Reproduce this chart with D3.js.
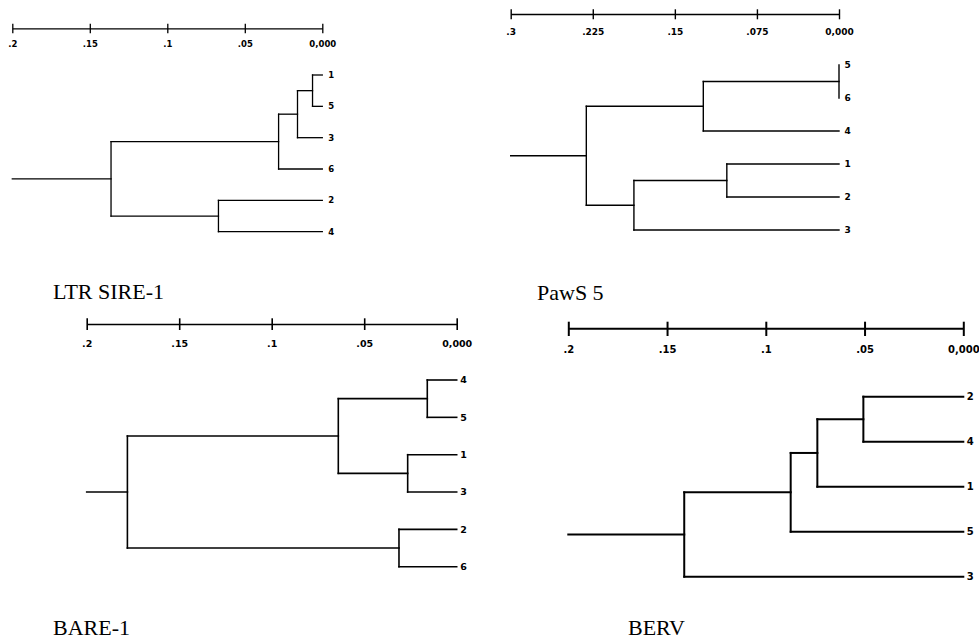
<!DOCTYPE html>
<html>
<head>
<meta charset="utf-8">
<script src="https://cdn.jsdelivr.net/npm/d3@7"></script>
<style>
  html, body { margin: 0; padding: 0; background: #fff; }
  svg { display: block; }
  .title { font-family: "Liberation Serif", "Times New Roman", serif; font-size: 22px; fill: #000; }
  .lbl { font-family: "DejaVu Sans", Verdana, sans-serif; font-weight: bold; fill: #000; }
</style>
</head>
<body>
<div id="chart"></div>
<script>
// ---- data (distances) ----
// merges: [childA, childB, height]; "#k" refers to the k-th merge
const titles = ["LTR SIRE-1", "PawS 5", "BARE-1", "BERV"];

const ticks1 = [0.2, 0.15, 0.1, 0.05, 0];
const tickLabels1 = [".2", ".15", ".1", ".05", "0,000"];
const leaves1 = ["1", "5", "3", "6", "2", "4"];
const merges1 = [["1", "5", 0.0063], ["#0", "3", 0.016], ["#1", "6", 0.0282], ["2", "4", 0.067], ["#2", "#3", 0.1363]];

const ticks2 = [0.3, 0.225, 0.15, 0.075, 0];
const tickLabels2 = [".3", ".225", ".15", ".075", "0,000"];
const leaves2 = ["5", "6", "4", "1", "2", "3"];
const merges2 = [["5", "6", 0], ["#0", "4", 0.124], ["1", "2", 0.1025], ["#2", "3", 0.1874], ["#1", "#3", 0.2309]];

const ticks3 = [0.2, 0.15, 0.1, 0.05, 0];
const tickLabels3 = [".2", ".15", ".1", ".05", "0,000"];
const leaves3 = ["4", "5", "1", "3", "2", "6"];
const merges3 = [["4", "5", 0.0159], ["1", "3", 0.0265], ["#0", "#1", 0.064], ["2", "6", 0.0312], ["#2", "#3", 0.178]];

const ticks4 = [0.2, 0.15, 0.1, 0.05, 0];
const tickLabels4 = [".2", ".15", ".1", ".05", "0,000"];
const leaves4 = ["2", "4", "1", "5", "3"];
const merges4 = [["2", "4", 0.0506], ["#0", "1", 0.0739], ["#1", "5", 0.0874], ["#2", "3", 0.1413]];

// ---- layout of the four pasted panels ----
const panels = [
  { ticks: ticks1, tickLabels: tickLabels1, leaves: leaves1, merges: merges1, title: titles[0],
    x0: 12.3, x1: 322.3, axisY: 28.3, yTop: 75, yBottom: 231.7, tickUp: 4.5, tickDown: 5,
    tickBase: 18.4, font: 8.5, leafGap: 6, sw: 1.3, titleX: 53, titleY: 299 },
  { ticks: ticks2, tickLabels: tickLabels2, leaves: leaves2, merges: merges2, title: titles[1],
    x0: 510.7, x1: 839, axisY: 14, yTop: 65, yBottom: 230, tickUp: 4.7, tickDown: 5.3,
    tickBase: 21, font: 9, leafGap: 5.5, sw: 1.4, titleX: 537, titleY: 300 },
  { ticks: ticks3, tickLabels: tickLabels3, leaves: leaves3, merges: merges3, title: titles[2],
    x0: 86.7, x1: 456.7, axisY: 324, yTop: 380, yBottom: 566.7, tickUp: 5.7, tickDown: 6,
    tickBase: 22.7, font: 9.5, leafGap: 3.5, sw: 1.6, titleX: 53, titleY: 635 },
  { ticks: ticks4, tickLabels: tickLabels4, leaves: leaves4, merges: merges4, title: titles[3],
    x0: 568.3, x1: 963.3, axisY: 328.3, yTop: 396.7, yBottom: 576.7, tickUp: 6.6, tickDown: 7.7,
    tickBase: 25, font: 10, leafGap: 3.4, sw: 2, titleX: 628, titleY: 635 }
];

const W = 979, H = 641;
const svg = d3.select("#chart").append("svg").attr("width", W).attr("height", H);

function drawPanel(p) {
  const x = d3.scaleLinear().domain([p.ticks[0], 0]).range([p.x0, p.x1]);
  const y = d3.scalePoint().domain(p.leaves).range([p.yTop, p.yBottom]);
  const g = svg.append("g");

  // distance axis on top
  const axis = d3.axisBottom(x)
    .tickValues(p.ticks)
    .tickFormat((d, i) => p.tickLabels[i])
    .tickSizeOuter(0)
    .tickSizeInner(p.tickDown);
  const ax = g.append("g").attr("transform", `translate(0,${p.axisY})`).call(axis);
  ax.select(".domain").attr("stroke", "#000").attr("stroke-width", p.sw);
  ax.selectAll(".tick line").attr("y1", -p.tickUp).attr("stroke", "#000").attr("stroke-width", p.sw);
  ax.selectAll(".tick text")
    .attr("class", "lbl")
    .attr("y", p.tickBase)
    .attr("dy", 0)
    .style("font-size", p.font + "px");

  // build nodes
  const nodes = {};
  p.leaves.forEach((n) => { nodes[n] = { name: n, h: 0, y: y(n), leaf: true }; });
  p.merges.forEach((m, i) => {
    const a = nodes[m[0]], b = nodes[m[1]];
    nodes["#" + i] = { h: m[2], y: (a.y + b.y) / 2, children: [a, b] };
  });
  const root = nodes["#" + (p.merges.length - 1)];

  const segs = [];
  p.merges.forEach((m, i) => {
    const n = nodes["#" + i];
    segs.push([n.h, n.children[0].y, n.h, n.children[1].y]);
    n.children.forEach((c) => segs.push([n.h, c.y, c.h, c.y]));
  });
  segs.push([p.ticks[0], root.y, root.h, root.y]);

  g.append("g")
    .selectAll("line")
    .data(segs.filter((s) => s[0] !== s[2] || s[1] !== s[3]))
    .join("line")
    .attr("x1", (d) => x(d[0]))
    .attr("y1", (d) => d[1])
    .attr("x2", (d) => x(d[2]))
    .attr("y2", (d) => d[3])
    .attr("stroke", "#000")
    .attr("stroke-width", p.sw)
    .attr("stroke-linecap", "square");

  // leaf labels
  g.append("g")
    .selectAll("text")
    .data(p.leaves)
    .join("text")
    .attr("class", "lbl")
    .attr("x", x(0) + p.leafGap)
    .attr("y", (d) => y(d))
    .attr("dy", "0.36em")
    .style("font-size", p.font + "px")
    .text((d) => d);

  // panel caption
  svg.append("text")
    .attr("class", "title")
    .attr("x", p.titleX)
    .attr("y", p.titleY)
    .text(p.title);
}

panels.forEach(drawPanel);
</script>
</body>
</html>
